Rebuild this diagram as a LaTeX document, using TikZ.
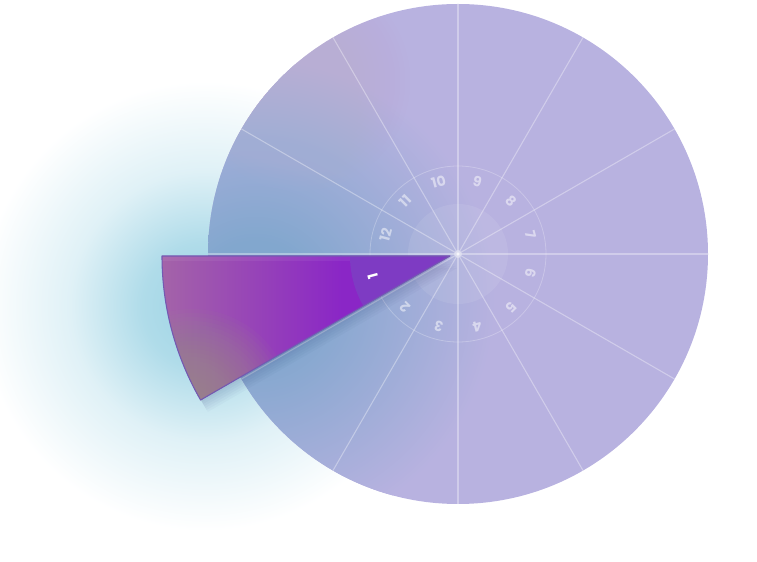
\documentclass[tikz,border=0pt]{standalone}
\usepackage{fontspec}
\usepackage{tikz}
\newfontfamily\numfont{Poppins}
\definecolor{lavender}{HTML}{B8B2E0}
\definecolor{skyblue}{HTML}{82A7CE}
\definecolor{glowcyan}{HTML}{9CD3E4}
\definecolor{pinktint}{HTML}{CAAED4}
\definecolor{wedgeviolet}{HTML}{7E3BC3}
\definecolor{wedgepurple}{HTML}{8A26C6}
\definecolor{wedgepink}{HTML}{A464A8}
\definecolor{wedgeolive}{HTML}{989C84}
\definecolor{wedgeedge}{HTML}{7458B2}
\pgfdeclareradialshading{glowshade}{\pgfpoint{0bp}{0bp}}{color(0bp)=(glowcyan); color(7bp)=(glowcyan!80!white); color(15bp)=(glowcyan!32!white); color(25bp)=(white); color(50bp)=(white)}
\pgfdeclareradialshading{discshade}{\pgfpoint{0bp}{0bp}}{color(0bp)=(skyblue); color(6bp)=(skyblue); color(25bp)=(lavender); color(50bp)=(lavender)}

\begin{document}
\begin{tikzpicture}[x=0.75pt,y=0.75pt]
                \tikzstyle{spoke}=[draw=white, draw opacity=0.35, line width=0.8pt]
                \tikzstyle{ring}=[draw=white, draw opacity=0.25, line width=0.6pt]
                \tikzstyle{hour}=[text=white, text opacity=0.5, inner sep=0pt, font=\numfont\bfseries\fontsize{10.5}{12}\selectfont]

                \useasboundingbox (0,0) rectangle (757,561);
                \coordinate (c) at (458,307);
                \coordinate (tip) at (450,305);

                % glow behind the pulled out slice
                \shade[shading=glowshade] (205,255) circle (225);

                % the dial
                \fill[lavender] (c) circle (250);
                \begin{scope}
                    \clip (c) circle (250);
                    \shade[shading=discshade] (255,262) circle (240);
                    \foreach \r in {5,10,...,110}
                    \fill[pinktint, opacity=0.025] (300,480) circle (\r);
                \end{scope}
                \draw[ring, draw opacity=0.5] (c) ++(0:251) arc[start angle=0, end angle=30, radius=251];

                \foreach \a in {0,30,...,330}
                \draw[spoke] (c) -- ++(\a:250);

                \fill[white, opacity=0.08] (c) circle (50);
                \draw[ring] (c) circle (88);
                \fill[white, opacity=0.3] (c) circle (4);

                \foreach \n/\a in {2/225, 3/255, 4/285, 5/315, 6/345, 7/15, 8/45, 9/75, 10/105, 11/135, 12/165}
                \node[hour, rotate=\a-90] (h\n) at ([shift={(\a:75)}]c) {\n};

                % soft shadow under slice 1
                \foreach \d in {2,4,...,12}
                \fill[black!70!blue, opacity=0.025] ([shift={(0.6*\d,-\d)}]tip) -- ++(180:288) arc[start angle=180, end angle=210, radius=288] -- cycle;

                % slice 1
                \begin{scope}
                    \clip (tip) -- ++(180:288) arc[start angle=180, end angle=210, radius=288] -- cycle;
                    \fill[wedgepurple] (340,150) rectangle (452,306);
                    \shade[left color=wedgepink, right color=wedgepurple] (160,150) rectangle (342,306);
                    \foreach \r in {4,8,...,100}
                    \fill[wedgeolive, opacity=0.05] (192,152) circle (\r);
                    \fill[white, opacity=0.06] (160,300) rectangle (452,306);
                    \fill[wedgeviolet] (tip) -- ++(180:100) arc[start angle=180, end angle=210, radius=100] -- cycle;
                \end{scope}
                \draw[wedgeedge, line width=0.8pt, line join=round] (tip) -- ++(180:288) arc[start angle=180, end angle=210, radius=288] -- cycle;
                \node[hour, text opacity=1, rotate=105] (h1) at ([shift={(195:80)}]tip) {1};
            \end{tikzpicture}
\end{document}
